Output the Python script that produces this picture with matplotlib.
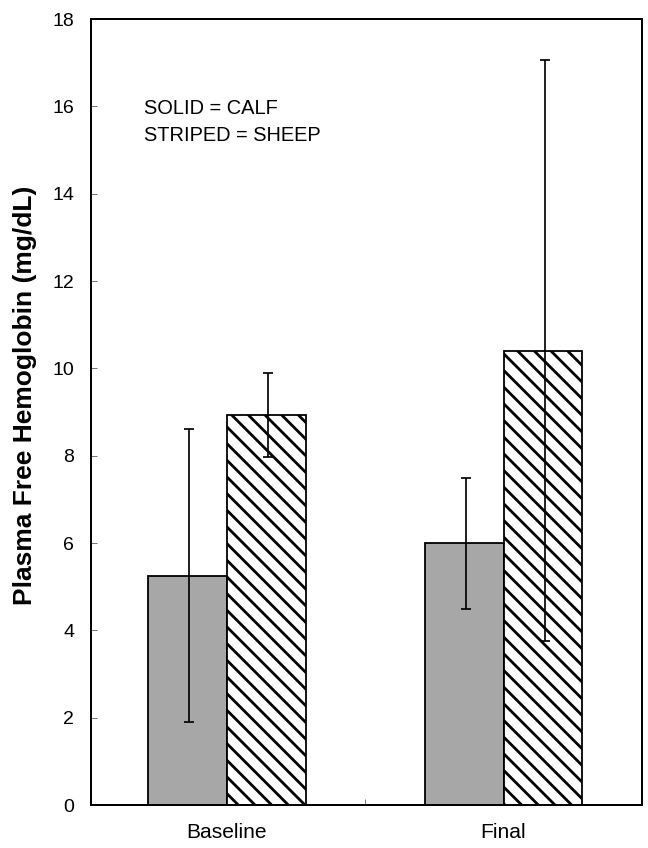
import matplotlib
matplotlib.use("Agg")
import matplotlib.pyplot as plt
import numpy as np

groups = ["Baseline", "Final"]
calf_mean = [5.25, 6.0]
calf_err = [3.35, 1.5]
sheep_mean = [8.93, 10.4]
sheep_err = [0.97, 6.65]
yticks = [0, 2, 4, 6, 8, 10, 12, 14, 16, 18]

plt.rcParams['font.family'] = ['Liberation Sans', 'DejaVu Sans']
plt.rcParams['hatch.linewidth'] = 2.0

DPI = 100
PX = 72 / DPI  # points per pixel
fig = plt.figure(figsize=(648 / DPI, 848 / DPI), dpi=DPI)
ax = fig.add_axes([91 / 648, 1 - 805 / 848, (642 - 91) / 648, (805 - 19) / 848])

x = np.arange(len(groups))
w = 0.285
ax.bar(x - w / 2, calf_mean, w, color='#a7a7a7', edgecolor='black', linewidth=1.8 * PX, zorder=2)
ax.bar(x + w / 2, sheep_mean, w, color='white', edgecolor='black', linewidth=1.8 * PX,
       hatch='\\\\', zorder=2)
ax.errorbar(x - w / 2 + 0.006, calf_mean, yerr=calf_err, fmt='none', ecolor='black',
            elinewidth=1.7 * PX, capsize=5 * PX, capthick=1.7 * PX, zorder=3)
ax.errorbar(x + w / 2 + 0.006, sheep_mean, yerr=sheep_err, fmt='none', ecolor='black',
            elinewidth=1.7 * PX, capsize=5 * PX, capthick=1.7 * PX, zorder=3)

ax.set_xlim(-0.49, 1.5)
ax.set_ylim(0, 18)
ax.set_yticks(yticks)
ax.set_yticklabels([str(v) for v in yticks], fontsize=19.5 * PX)
ax.tick_params(axis='y', direction='in', length=6 * PX, width=1 * PX, color='#777777', pad=17 * PX)
ax.set_xticks(x)
ax.set_xticklabels(groups, fontsize=21 * PX)
ax.tick_params(axis='x', which='major', length=0, pad=18 * PX)
ax.set_xticks([0.5], minor=True)
ax.tick_params(axis='x', which='minor', direction='in', length=6 * PX, width=1 * PX, color='#777777')

for s in ax.spines.values():
    s.set_linewidth(2.0 * PX)

fig.text(25 / 648, 1 - 395 / 848, "Plasma Free Hemoglobin (mg/dL)", fontsize=26.4 * PX,
         fontweight='bold', rotation=90, ha='center', va='center')

ax.text(-0.30, 15.95, "SOLID = CALF", fontsize=20 * PX, va='center', ha='left')
ax.text(-0.30, 15.34, "STRIPED = SHEEP", fontsize=20 * PX, va='center', ha='left')

fig.savefig("out.png", dpi=DPI)
